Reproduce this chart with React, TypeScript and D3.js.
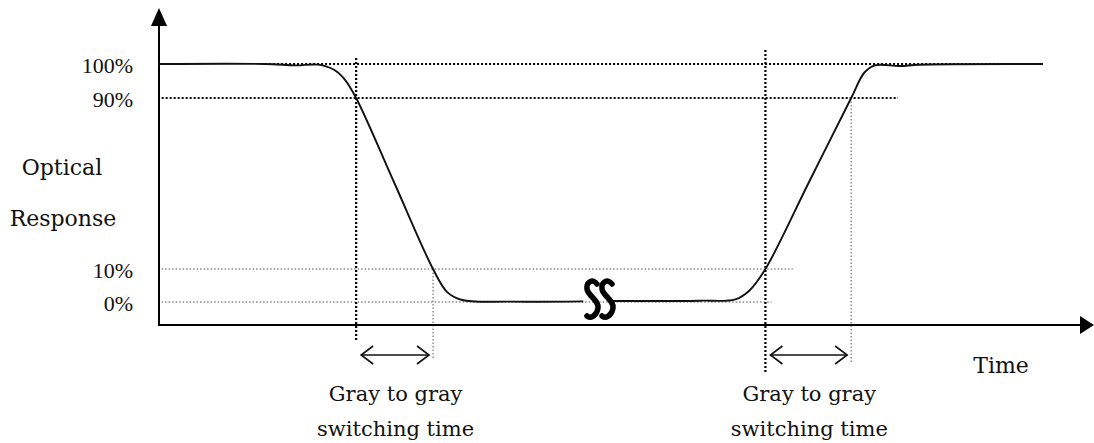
import { useEffect, useRef } from "react";
import * as d3 from "d3";

// response curve, time in arbitrary units, response in %
const fallTime = [0, 12.0, 15.5, 18.0, 19.8, 21.0, 22.3, 26.65, 31.0, 32.6, 34.3, 39.7, 48.0];
const fallResp = [100, 100, 99.6, 99.8, 98.3, 95.5, 90, 50, 10, 3, 0.6, 0.1, 0.2];
const riseTime = [51.4, 61.2, 65.2, 66.8, 68.6, 73.45, 78.3, 79.8, 81.0, 83.8, 86.0, 100];
const riseResp = [0.3, 0.4, 0.8, 3.5, 10, 50, 90, 97.5, 99.6, 99.4, 99.8, 100];

const levels = [100, 90, 10, 0];
const levelLabels = ["100%", "90%", "10%", "0%"];
// where each horizontal guide starts / ends (time units)
const levelStart = [12.0, 0.3, 0.3, 0.3];
const levelEnd = [95.0, 83.6, 71.7, 69.3];

// switching windows: [t at 90%, t at 10%] for fall, [t at 10%, t at 90%] for rise
const windows = [
  [22.3, 31.0],
  [68.6, 78.3],
];

const App = () => {
  const ref = useRef<SVGSVGElement>(null);

  useEffect(() => {
    const width = 1094,
      height = 443;
    const svg = d3.select(ref.current);
    svg.selectAll("*").remove();

    const x = d3.scaleLinear().domain([0, 100]).range([159, 1043]);
    const y = d3.scaleLinear().domain([0, 10, 90, 100]).range([302, 269, 98, 64]);
    const axisY = 325;
    const serif = "'DejaVu Serif', serif";
    const numFont = "'Liberation Serif', serif";

    const g = svg.append("g");

    // horizontal guides
    levels.forEach((lv, i) => {
      const bold = lv >= 90;
      g.append("line")
        .attr("x1", x(levelStart[i]))
        .attr("x2", x(levelEnd[i]))
        .attr("y1", y(lv))
        .attr("y2", y(lv))
        .attr("stroke", bold ? "#000" : "#888")
        .attr("stroke-width", bold ? 2.2 : 1.4)
        .attr("stroke-dasharray", bold ? "2 2" : "1.5 2");
      g.append("text")
        .attr("x", 133)
        .attr("y", y(lv) + 9)
        .attr("text-anchor", "end")
        .style("font-family", numFont)
        .style("font-size", "22px")
        .attr("fill", "#111")
        .text(levelLabels[i]);
    });

    // vertical guides
    const vert = [
      { t: windows[0][0], y1: 58, y2: 340, bold: true },
      { t: windows[0][1], y1: y(10), y2: 360, bold: false },
      { t: windows[1][0], y1: 50, y2: 372, bold: true },
      { t: windows[1][1], y1: y(90), y2: 362, bold: false },
    ];
    vert.forEach((v) => {
      g.append("line")
        .attr("x1", x(v.t))
        .attr("x2", x(v.t))
        .attr("y1", v.y1)
        .attr("y2", v.y2)
        .attr("stroke", v.bold ? "#000" : "#888")
        .attr("stroke-width", v.bold ? 2.2 : 1.4)
        .attr("stroke-dasharray", v.bold ? "2 2" : "1.5 2");
    });

    // axes
    g.append("line")
      .attr("x1", 159)
      .attr("x2", 159)
      .attr("y1", 20)
      .attr("y2", axisY + 1)
      .attr("stroke", "#000")
      .attr("stroke-width", 2);
    g.append("path").attr("d", "M159,8 L151,26 L167,26 Z").attr("fill", "#000");
    g.append("line")
      .attr("x1", 158)
      .attr("x2", 1084)
      .attr("y1", axisY)
      .attr("y2", axisY)
      .attr("stroke", "#000")
      .attr("stroke-width", 2);
    g.append("path")
      .attr("d", `M1094,${axisY} L1080,${axisY - 9} L1080,${axisY + 9} Z`)
      .attr("fill", "#000");

    // response curve (two segments around the break)
    const line = d3
      .line<[number, number]>()
      .x((d) => x(d[0]))
      .y((d) => y(d[1]))
      .curve(d3.curveCatmullRom.alpha(0.5));
    [
      [fallTime, fallResp],
      [riseTime, riseResp],
    ].forEach(([ts, rs]) => {
      const pts = ts.map((t, i) => [t, rs[i]] as [number, number]);
      g.append("path")
        .attr("d", line(pts) as string)
        .attr("fill", "none")
        .attr("stroke", "#111")
        .attr("stroke-width", 1.9);
    });

    // break symbol
    [585, 600].forEach((a) => {
      g.append("path")
        .attr(
          "d",
          `M${a + 12},284 C${a + 8},278 ${a + 1},282 ${a + 2},289 C${a + 3},296 ${a + 14},300 ${a + 13},308 C${a + 12},316 ${a + 5},319 ${a + 2},316`
        )
        .attr("fill", "none")
        .attr("stroke", "#000")
        .attr("stroke-width", 5.5)
        .attr("stroke-linecap", "round");
    });

    // double arrows + labels
    const ay = 355;
    windows.forEach((w) => {
      const x1 = x(w[0]) + 5,
        x2 = x(w[1]) - 4;
      g.append("line")
        .attr("x1", x1)
        .attr("x2", x2)
        .attr("y1", ay)
        .attr("y2", ay)
        .attr("stroke", "#111")
        .attr("stroke-width", 1.6);
      g.append("path")
        .attr("d", `M${x1 + 12},${ay - 9} L${x1},${ay} L${x1 + 12},${ay + 9} M${x2 - 12},${ay - 9} L${x2},${ay} L${x2 - 12},${ay + 9}`)
        .attr("fill", "none")
        .attr("stroke", "#111")
        .attr("stroke-width", 1.6);
      const cx = (x(w[0]) + x(w[1])) / 2 + 1;
      ["Gray to gray", "switching time"].forEach((s, i) => {
        g.append("text")
          .attr("x", cx)
          .attr("y", 401 + i * 35)
          .attr("text-anchor", "middle")
          .style("font-family", serif)
          .style("font-size", "21px")
          .attr("fill", "#111")
          .text(s);
      });
    });

    // axis titles
    g.append("text")
      .attr("x", 62)
      .attr("y", 175)
      .attr("text-anchor", "middle")
      .style("font-family", serif)
      .style("font-size", "22px")
      .attr("fill", "#111")
      .text("Optical");
    g.append("text")
      .attr("x", 63)
      .attr("y", 226)
      .attr("text-anchor", "middle")
      .style("font-family", serif)
      .style("font-size", "22px")
      .attr("fill", "#111")
      .text("Response");
    g.append("text")
      .attr("x", 1001)
      .attr("y", 373)
      .attr("text-anchor", "middle")
      .style("font-family", serif)
      .style("font-size", "22px")
      .attr("fill", "#111")
      .text("Time");

    svg.attr("width", width).attr("height", height);
  }, []);

  return (
    <svg
      ref={ref}
      width={1094}
      height={443}
      style={{ position: "absolute", left: 0, top: 0, background: "#fff" }}
    />
  );
};

export default App;
